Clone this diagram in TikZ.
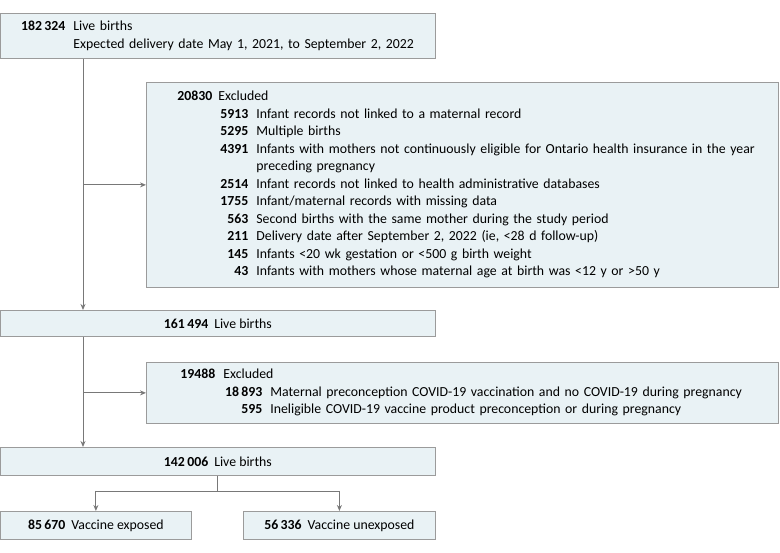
\documentclass[tikz,border=0pt]{standalone}
\usepackage{fontspec}
\setmainfont{Carlito}
\usepackage{array}
\usetikzlibrary{arrows.meta}
\definecolor{boxfill}{RGB}{233,242,245}
\definecolor{boxline}{RGB}{155,155,155}
\definecolor{linkgray}{RGB}{120,120,120}
\newcolumntype{N}[1]{>{\raggedleft\arraybackslash\bfseries}p{#1}}

\begin{document}
\begin{tikzpicture}[x=1pt,y=1pt,line width=0.8pt,>={Stealth[length=6pt,width=5pt]},
  flowbox/.style={draw=boxline,fill=boxfill,rectangle,anchor=north west,inner ysep=0pt,
    font=\fontsize{13.8}{17.5}\selectfont},
  leftbox/.style={flowbox,align=left},
  link/.style={draw=linkgray,line width=0.9pt}]
\useasboundingbox (0,0) rectangle (780,553);
% ---- cohort boxes ----
\node[leftbox,text width=399pt,inner xsep=18pt,minimum height=45pt] (b1) at (0,540) {%
  \begin{tabular}{@{}N{47pt}@{\hspace{8pt}}l@{}}
  182\,324 & Live births\\[1pt]
   & Expected delivery date May 1, 2021, to September 2, 2022
  \end{tabular}};
\node[leftbox,text width=580pt,inner xsep=26pt,minimum height=205pt] (b2) at (146,471) {%
  \begin{tabular}{@{}N{40pt}@{\hspace{6pt}}N{30pt}@{\hspace{8pt}}l@{}}
  20830 & \multicolumn{2}{@{}l@{}}{Excluded}\\
   & 5913 & Infant records not linked to a maternal record\\
   & 5295 & Multiple births\\
   & 4391 & Infants with mothers not continuously eligible for Ontario health insurance in the year\\
   & & preceding pregnancy\\
   & 2514 & Infant records not linked to health administrative databases\\
   & 1755 & Infant/maternal records with missing data\\
   & 563 & Second births with the same mother during the study period\\
   & 211 & Delivery date after September 2, 2022 (ie, <28 d follow-up)\\
   & 145 & Infants <20 wk gestation or <500 g birth weight\\
   & 43 & Infants with mothers whose maternal age at birth was <12 y or >50 y
  \end{tabular}};
\node[flowbox,minimum width=435pt,minimum height=26pt] (b3) at (0,243)
  {\textbf{161\,494}\hspace{6pt}Live births};
\node[leftbox,text width=570pt,inner xsep=31pt,minimum height=61pt] (b4) at (146,191) {%
  \begin{tabular}{@{}N{38pt}@{\hspace{8pt}}N{39pt}@{\hspace{8pt}}l@{}}
  19488 & \multicolumn{2}{@{}l@{}}{Excluded}\\
   & 18\,893 & Maternal preconception COVID-19 vaccination and no COVID-19 during pregnancy\\
   & 595 & Ineligible COVID-19 vaccine product preconception or during pregnancy
  \end{tabular}};
\node[flowbox,minimum width=435pt,minimum height=28pt] (b5) at (0,106)
  {\textbf{142\,006}\hspace{6pt}Live births};
\node[flowbox,minimum width=191pt,minimum height=28pt] (b6) at (0,42)
  {\textbf{85\,670}\hspace{6pt}Vaccine exposed};
\node[flowbox,minimum width=192pt,minimum height=28pt] (b7) at (243,42)
  {\textbf{56\,336}\hspace{6pt}Vaccine unexposed};
% ---- connectors ----
\coordinate (trunk) at (83,0);
\coordinate (split) at (0,62);
\draw[link,->] (trunk |- b1.south) -- (trunk |- b3.north);
\draw[link,->] (trunk |- b2.west) -- (b2.west);
\draw[link,->] (trunk |- b3.south) -- (trunk |- b5.north);
\draw[link,->] (trunk |- b4.west) -- (b4.west);
\draw[link] (b5.south) -- (b5.south |- split);
\draw[link] (b6.north |- split) -- (b7.north |- split);
\draw[link,->] (b6.north |- split) -- (b6.north);
\draw[link,->] (b7.north |- split) -- (b7.north);
\end{tikzpicture}
\end{document}
